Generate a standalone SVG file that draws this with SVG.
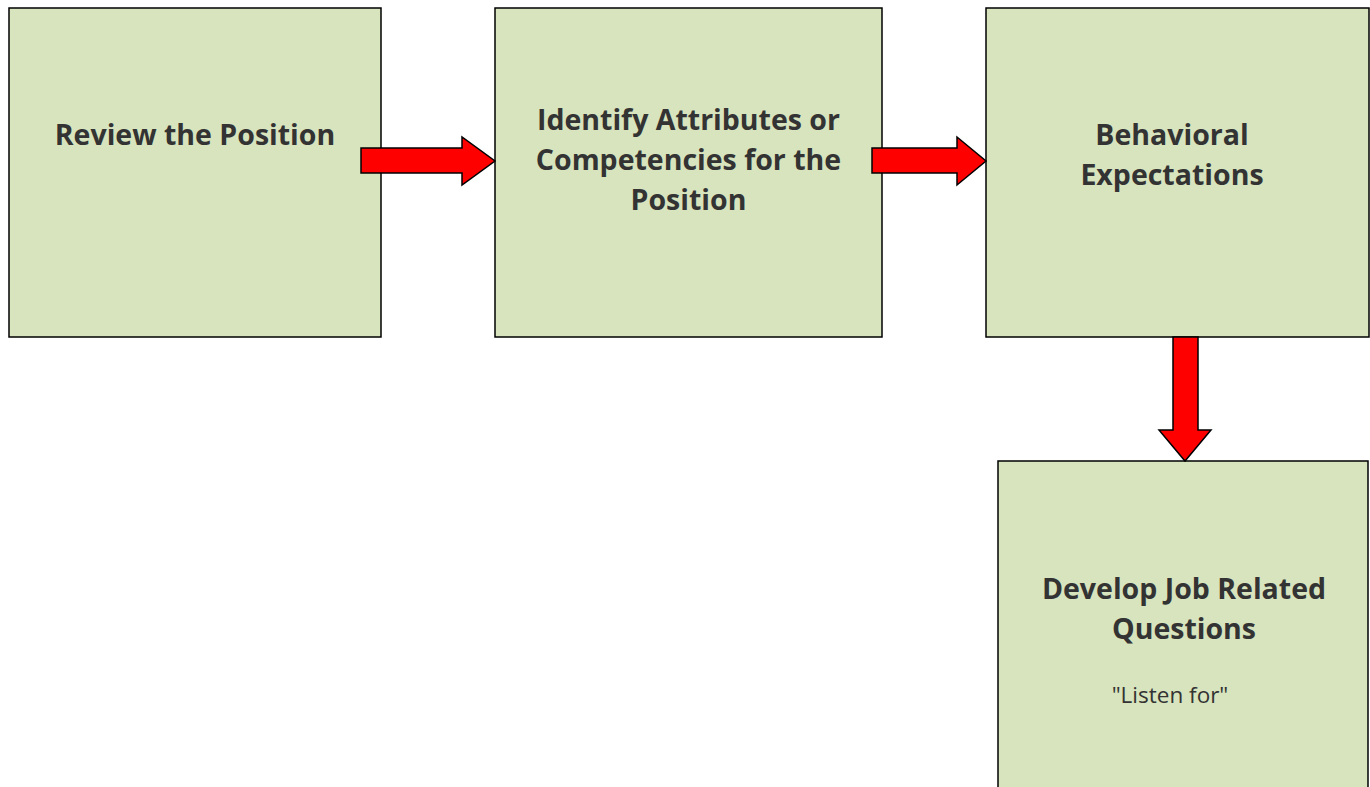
<svg xmlns="http://www.w3.org/2000/svg" width="1370" height="787" viewBox="0 0 1370 787">
<style>
.box{fill:#d7e4bd;stroke:#000;stroke-width:1.5}
.t{font-family:"Open Sans","Liberation Sans",sans-serif;font-weight:bold;font-size:28.5px;fill:#333;text-anchor:middle}
.s{font-family:"Open Sans","Liberation Sans",sans-serif;font-size:22.5px;fill:#333;text-anchor:middle}
.arr{fill:#ff0000;stroke:#000;stroke-width:1.5;stroke-linejoin:miter}
</style>
<rect width="1370" height="787" fill="#fff"/>
<g id="n1">
<rect class="box" x="9" y="8" width="372" height="329"/>
<text class="t" x="195" y="145">Review the Position</text>
</g>
<g id="n2">
<rect class="box" x="495" y="8" width="387" height="329"/>
<text class="t" x="688.5" y="130">Identify Attributes or</text>
<text class="t" x="688.5" y="170">Competencies for the</text>
<text class="t" x="688.5" y="210">Position</text>
</g>
<g id="n3">
<rect class="box" x="986" y="8" width="383" height="329"/>
<text class="t" x="1172" y="145">Behavioral</text>
<text class="t" x="1172" y="185">Expectations</text>
</g>
<g id="n4">
<rect class="box" x="998" y="461" width="370" height="340"/>
<text class="t" x="1184" y="599">Develop Job Related</text>
<text class="t" x="1184" y="639">Questions</text>
<text class="s" x="1170" y="703">"Listen for"</text>
</g>
<g id="connectors">
<polygon class="arr" points="361,148 462,148 462,137 495,161 462,185 462,173 361,173"/>
<polygon class="arr" points="872,148 957,148 957,137 986,161 957,185 957,173 872,173"/>
<polygon class="arr" points="1173,337 1198,337 1198,430 1211,430 1185,461 1159,430 1173,430"/>
</g>
</svg>
